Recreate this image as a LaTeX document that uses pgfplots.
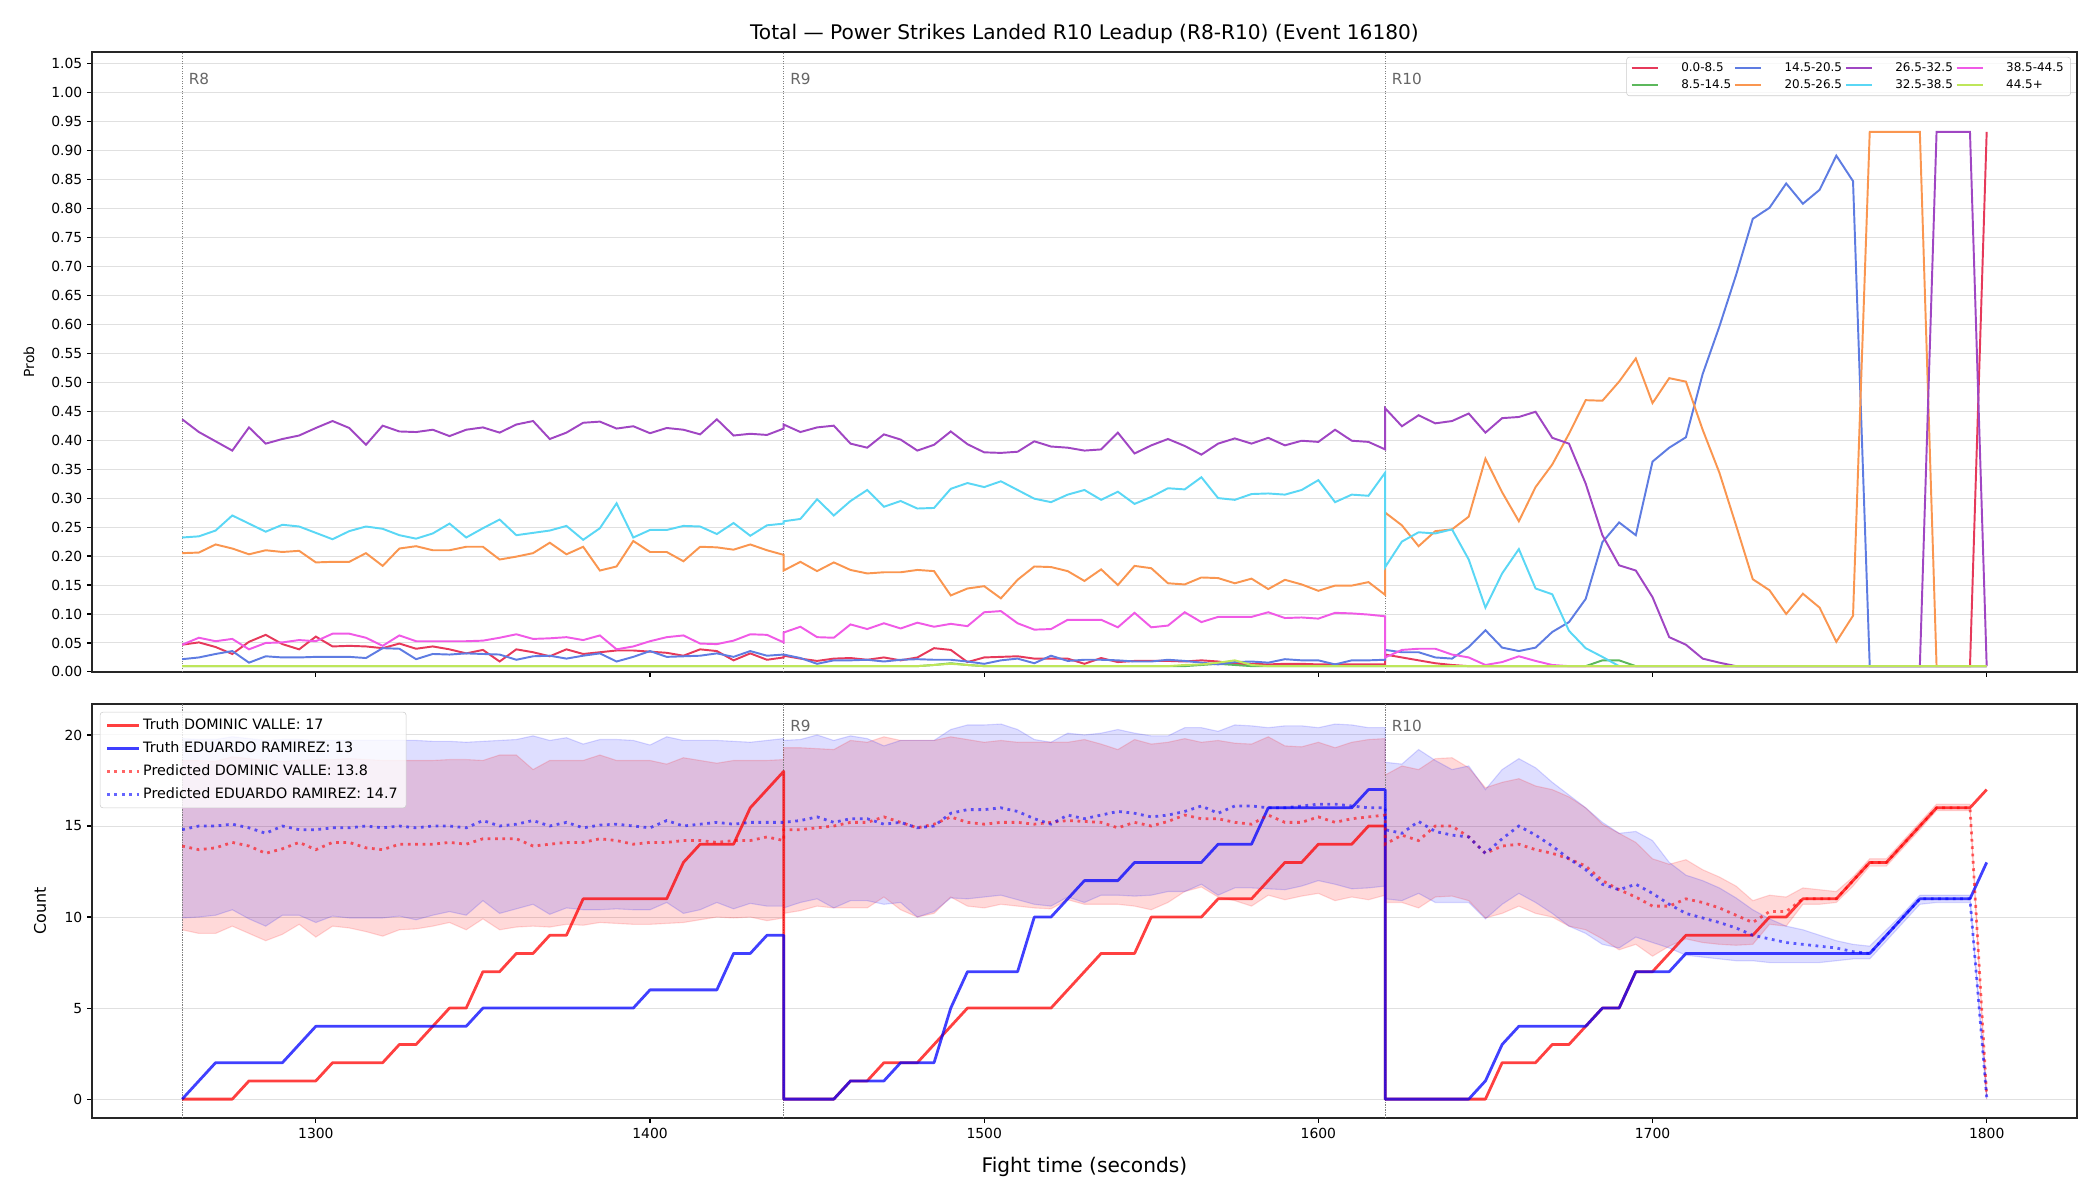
\documentclass[border=0pt]{standalone}
\usepackage{fontspec}
\setmainfont{DejaVu Sans}
\usepackage{pgfplots}
\usepackage{pgfplotstable}
\usepgfplotslibrary{fillbetween}
\pgfplotsset{compat=1.18}

\definecolor{c0}{RGB}{230,57,90}
\definecolor{c1}{RGB}{92,184,92}
\definecolor{c2}{RGB}{94,124,226}
\definecolor{c3}{RGB}{250,150,80}
\definecolor{c4}{RGB}{160,70,195}
\definecolor{c5}{RGB}{90,215,245}
\definecolor{c6}{RGB}{240,90,230}
\definecolor{c7}{RGB}{190,230,90}

\pgfplotstableread{
t r g b o p c m y
1260 0.047 0.010 0.022 0.205 0.436 0.232 0.047 0.010
1265 0.051 0.010 0.025 0.206 0.414 0.234 0.059 0.010
1270 0.043 0.010 0.031 0.220 0.398 0.244 0.053 0.010
1275 0.031 0.010 0.036 0.213 0.382 0.270 0.057 0.010
1280 0.052 0.010 0.016 0.203 0.422 0.256 0.039 0.010
1285 0.064 0.010 0.027 0.210 0.394 0.242 0.050 0.010
1290 0.048 0.010 0.025 0.207 0.402 0.254 0.051 0.010
1295 0.039 0.010 0.025 0.209 0.408 0.251 0.055 0.010
1300 0.061 0.010 0.026 0.189 0.421 0.240 0.053 0.010
1305 0.044 0.010 0.026 0.190 0.433 0.229 0.066 0.010
1310 0.045 0.010 0.026 0.190 0.421 0.243 0.066 0.010
1315 0.044 0.010 0.024 0.205 0.392 0.251 0.059 0.010
1320 0.041 0.010 0.041 0.183 0.425 0.247 0.045 0.010
1325 0.049 0.010 0.040 0.213 0.415 0.236 0.063 0.010
1330 0.040 0.010 0.022 0.217 0.414 0.230 0.053 0.010
1335 0.044 0.010 0.031 0.210 0.418 0.239 0.053 0.010
1340 0.039 0.010 0.030 0.210 0.407 0.256 0.053 0.010
1345 0.032 0.010 0.032 0.216 0.418 0.232 0.053 0.010
1350 0.038 0.010 0.031 0.216 0.422 0.248 0.054 0.010
1355 0.018 0.010 0.030 0.194 0.413 0.263 0.059 0.010
1360 0.039 0.010 0.021 0.199 0.427 0.236 0.065 0.010
1365 0.034 0.010 0.027 0.205 0.433 0.240 0.057 0.010
1370 0.027 0.010 0.028 0.223 0.402 0.244 0.058 0.010
1375 0.039 0.010 0.023 0.203 0.413 0.252 0.060 0.010
1380 0.031 0.010 0.028 0.216 0.430 0.228 0.055 0.010
1385 0.034 0.010 0.032 0.175 0.432 0.248 0.063 0.010
1390 0.037 0.010 0.018 0.182 0.420 0.291 0.039 0.010
1395 0.037 0.010 0.026 0.226 0.424 0.232 0.044 0.010
1400 0.035 0.010 0.036 0.207 0.412 0.245 0.053 0.010
1405 0.033 0.010 0.026 0.207 0.421 0.245 0.060 0.010
1410 0.028 0.010 0.027 0.191 0.418 0.252 0.063 0.010
1415 0.039 0.010 0.028 0.216 0.410 0.251 0.049 0.010
1420 0.036 0.010 0.032 0.215 0.436 0.238 0.048 0.010
1425 0.020 0.010 0.026 0.211 0.408 0.257 0.054 0.010
1430 0.032 0.010 0.036 0.220 0.411 0.235 0.065 0.010
1435 0.021 0.010 0.028 0.210 0.409 0.253 0.064 0.010
1440 0.025 0.010 0.030 0.202 0.420 0.256 0.051 0.010
1440 0.028 0.010 0.030 0.175 0.427 0.260 0.068 0.010
1445 0.023 0.010 0.024 0.190 0.414 0.264 0.078 0.010
1450 0.019 0.010 0.014 0.174 0.422 0.298 0.060 0.010
1455 0.023 0.010 0.020 0.189 0.425 0.270 0.059 0.010
1460 0.024 0.010 0.020 0.176 0.394 0.295 0.082 0.010
1465 0.021 0.010 0.021 0.170 0.387 0.314 0.074 0.010
1470 0.025 0.010 0.018 0.172 0.410 0.285 0.084 0.010
1475 0.020 0.010 0.021 0.172 0.401 0.295 0.075 0.010
1480 0.025 0.010 0.022 0.176 0.382 0.282 0.085 0.010
1485 0.041 0.012 0.021 0.174 0.392 0.283 0.078 0.012
1490 0.038 0.015 0.021 0.132 0.415 0.316 0.083 0.014
1495 0.017 0.012 0.018 0.144 0.393 0.326 0.079 0.012
1500 0.025 0.010 0.014 0.148 0.379 0.319 0.103 0.010
1505 0.026 0.010 0.020 0.127 0.378 0.329 0.105 0.010
1510 0.027 0.010 0.023 0.159 0.380 0.314 0.084 0.010
1515 0.023 0.010 0.015 0.182 0.398 0.299 0.073 0.010
1520 0.023 0.010 0.028 0.181 0.389 0.293 0.074 0.010
1525 0.023 0.010 0.019 0.174 0.387 0.306 0.090 0.010
1530 0.014 0.010 0.021 0.157 0.382 0.314 0.090 0.010
1535 0.024 0.010 0.021 0.177 0.384 0.297 0.090 0.010
1540 0.017 0.010 0.020 0.150 0.413 0.311 0.077 0.010
1545 0.019 0.010 0.018 0.183 0.377 0.290 0.102 0.010
1550 0.019 0.010 0.018 0.179 0.391 0.302 0.077 0.010
1555 0.019 0.010 0.021 0.153 0.402 0.317 0.080 0.010
1560 0.018 0.010 0.019 0.151 0.390 0.315 0.103 0.012
1565 0.020 0.012 0.016 0.163 0.375 0.336 0.086 0.013
1570 0.018 0.014 0.013 0.162 0.394 0.300 0.095 0.016
1575 0.014 0.012 0.017 0.153 0.403 0.297 0.095 0.020
1580 0.014 0.010 0.018 0.161 0.394 0.307 0.095 0.012
1585 0.013 0.010 0.016 0.143 0.404 0.308 0.103 0.010
1590 0.014 0.010 0.022 0.159 0.391 0.306 0.093 0.010
1595 0.014 0.010 0.020 0.151 0.399 0.314 0.094 0.010
1600 0.013 0.010 0.020 0.140 0.397 0.331 0.092 0.010
1605 0.013 0.010 0.013 0.149 0.418 0.293 0.102 0.010
1610 0.013 0.010 0.020 0.149 0.399 0.306 0.101 0.010
1615 0.013 0.010 0.020 0.155 0.397 0.304 0.099 0.010
1620 0.013 0.010 0.021 0.133 0.384 0.344 0.096 0.010
1620 0.030 0.010 0.038 0.275 0.455 0.181 0.025 0.010
1625 0.025 0.010 0.034 0.253 0.424 0.225 0.038 0.010
1630 0.020 0.010 0.034 0.217 0.443 0.241 0.040 0.010
1635 0.015 0.010 0.025 0.243 0.429 0.239 0.040 0.010
1640 0.012 0.010 0.023 0.246 0.433 0.246 0.030 0.010
1645 0.010 0.010 0.043 0.268 0.446 0.194 0.025 0.010
1650 0.010 0.010 0.072 0.368 0.413 0.111 0.012 0.010
1655 0.010 0.010 0.042 0.310 0.438 0.170 0.017 0.010
1660 0.010 0.010 0.036 0.260 0.440 0.212 0.027 0.010
1665 0.010 0.010 0.042 0.319 0.449 0.144 0.019 0.010
1670 0.010 0.010 0.069 0.358 0.404 0.134 0.012 0.010
1675 0.010 0.010 0.086 0.411 0.394 0.071 0.010 0.010
1680 0.010 0.010 0.126 0.469 0.325 0.041 0.010 0.010
1685 0.010 0.020 0.224 0.468 0.236 0.026 0.010 0.010
1690 0.010 0.020 0.258 0.501 0.184 0.010 0.010 0.010
1695 0.010 0.010 0.236 0.541 0.175 0.010 0.010 0.010
1700 0.010 0.010 0.363 0.464 0.129 0.010 0.010 0.010
1705 0.010 0.010 0.387 0.507 0.060 0.010 0.010 0.010
1710 0.010 0.010 0.405 0.501 0.047 0.010 0.010 0.010
1715 0.010 0.010 0.514 0.418 0.023 0.010 0.010 0.010
1720 0.010 0.010 0.596 0.344 0.016 0.010 0.010 0.010
1725 0.010 0.010 0.685 0.253 0.010 0.010 0.010 0.010
1730 0.010 0.010 0.782 0.160 0.010 0.010 0.010 0.010
1735 0.010 0.010 0.801 0.141 0.010 0.010 0.010 0.010
1740 0.010 0.010 0.843 0.100 0.010 0.010 0.010 0.010
1745 0.010 0.010 0.808 0.135 0.010 0.010 0.010 0.010
1750 0.010 0.010 0.832 0.111 0.010 0.010 0.010 0.010
1755 0.010 0.010 0.891 0.052 0.010 0.010 0.010 0.010
1760 0.010 0.010 0.847 0.097 0.010 0.010 0.010 0.010
1765 0.010 0.010 0.010 0.932 0.010 0.010 0.010 0.010
1770 0.010 0.010 0.010 0.932 0.010 0.010 0.010 0.010
1775 0.010 0.010 0.010 0.932 0.010 0.010 0.010 0.010
1780 0.010 0.010 0.010 0.932 0.010 0.010 0.010 0.010
1785 0.010 0.010 0.010 0.010 0.932 0.010 0.010 0.010
1790 0.010 0.010 0.010 0.010 0.932 0.010 0.010 0.010
1795 0.010 0.010 0.010 0.010 0.932 0.010 0.010 0.010
1800 0.932 0.010 0.010 0.010 0.010 0.010 0.010 0.010
}\probtab

\pgfplotstableread{
t tR tB pR pB rLo rHi bLo bHi
1260 0 0 13.9 14.8 9.3 18.6 9.95 19.8
1265 0 1 13.7 15.0 9.1 18.6 10.0 19.75
1270 0 2 13.8 15.0 9.1 18.55 10.1 19.75
1275 0 2 14.1 15.1 9.5 18.8 10.4 19.9
1280 1 2 13.9 14.9 9.1 18.7 9.9 19.8
1285 1 2 13.5 14.6 8.7 18.6 9.5 19.7
1290 1 2 13.75 15.0 9.05 18.55 10.1 19.75
1295 1 3 14.1 14.8 9.6 18.6 10.1 19.75
1300 1 4 13.7 14.8 8.9 18.65 9.7 19.7
1305 2 4 14.1 14.9 9.5 18.65 10.05 19.7
1310 2 4 14.1 14.9 9.4 18.7 9.95 19.7
1315 2 4 13.8 15.0 9.2 18.65 9.95 19.7
1320 2 4 13.7 14.9 8.95 18.6 9.95 19.7
1325 3 4 14.0 15.0 9.3 18.6 10.05 19.7
1330 3 4 14.0 14.9 9.35 18.6 9.85 19.7
1335 4 4 14.0 15.0 9.5 18.6 10.1 19.65
1340 5 4 14.1 15.0 9.7 18.65 10.3 19.65
1345 5 4 14.0 14.9 9.3 18.65 10.1 19.6
1350 7 5 14.3 15.3 9.9 18.6 10.9 19.65
1355 7 5 14.3 15.0 9.3 18.9 10.2 19.7
1360 8 5 14.3 15.1 9.45 18.9 10.45 19.75
1365 8 5 13.9 15.3 9.5 18.1 10.7 19.95
1370 9 5 14.0 15.0 9.45 18.6 10.15 19.7
1375 9 5 14.1 15.2 9.6 18.6 10.5 19.85
1380 11 5 14.1 14.9 9.55 18.6 10.4 19.5
1385 11 5 14.3 15.05 9.7 18.9 10.4 19.75
1390 11 5 14.2 15.1 9.65 18.6 10.45 19.75
1395 11 5 14.0 15.0 9.6 18.6 10.4 19.7
1400 11 6 14.1 14.9 9.6 18.6 10.4 19.45
1405 11 6 14.1 15.3 9.65 18.4 10.8 19.9
1410 13 6 14.2 15.0 9.7 18.75 10.2 19.7
1415 14 6 14.2 15.1 9.85 18.6 10.4 19.7
1420 14 6 14.1 15.2 10.0 18.45 10.8 19.7
1425 14 8 14.2 15.1 9.95 18.6 10.45 19.65
1430 16 8 14.2 15.2 10.0 18.6 10.75 19.6
1435 17 9 14.4 15.2 9.8 18.6 10.6 19.7
1440 18 9 14.2 15.2 9.95 18.65 10.6 19.8
1440 0 0 14.8 15.2 10.2 19.3 10.5 19.7
1445 0 0 14.8 15.3 10.35 19.3 10.8 19.75
1450 0 0 14.9 15.5 10.6 19.25 11.0 20.0
1455 0 0 15.0 15.2 10.5 19.2 10.5 19.7
1460 1 1 15.2 15.4 10.5 19.7 10.9 19.95
1465 1 1 15.2 15.4 10.5 19.6 10.9 19.8
1470 2 1 15.5 15.1 11.1 19.9 10.7 19.4
1475 2 2 15.2 15.2 10.4 19.7 10.8 19.7
1480 2 2 14.9 14.9 10.0 19.7 10.0 19.7
1485 3 2 15.1 15.0 10.2 19.7 10.3 19.7
1490 4 5 15.5 15.7 11.1 19.9 11.05 20.3
1495 5 7 15.2 15.9 10.6 19.75 11.0 20.55
1500 5 7 15.1 15.9 10.5 19.6 11.1 20.55
1505 5 7 15.2 16.0 10.7 19.7 11.2 20.6
1510 5 7 15.2 15.8 10.6 19.6 10.95 20.3
1515 5 10 15.1 15.4 10.5 19.6 10.7 19.75
1520 5 10 15.2 15.1 10.45 19.6 10.6 19.6
1525 6 11 15.3 15.6 10.95 19.6 11.1 20.1
1530 7 12 15.25 15.4 10.7 19.75 10.8 20.0
1535 8 12 15.2 15.6 10.7 19.5 11.2 20.1
1540 8 12 14.9 15.8 10.7 19.2 11.2 20.3
1545 8 13 15.2 15.7 10.6 19.75 11.15 20.1
1550 10 13 15.0 15.5 10.4 19.5 11.2 19.95
1555 10 13 15.25 15.6 10.8 19.6 11.4 19.95
1560 10 13 15.6 15.8 11.4 19.8 11.4 20.4
1565 10 13 15.4 16.1 11.65 19.6 11.8 20.4
1570 11 14 15.4 15.7 11.1 19.7 11.2 20.2
1575 11 14 15.2 16.1 10.9 19.55 11.6 20.55
1580 11 14 15.1 16.1 10.6 19.5 11.6 20.5
1585 12 16 15.6 16.0 11.2 19.9 11.55 20.4
1590 13 16 15.2 16.0 10.95 19.4 11.5 20.5
1595 13 16 15.2 16.1 11.15 19.35 11.7 20.5
1600 14 16 15.5 16.2 11.3 19.6 12.0 20.4
1605 14 16 15.2 16.2 10.9 19.3 11.8 20.6
1610 14 16 15.4 16.1 11.1 19.6 11.55 20.55
1615 15 17 15.5 16.0 10.95 19.75 11.6 20.4
1620 15 17 15.6 16.0 11.2 19.8 11.7 20.4
1620 0 0 14.0 14.8 10.8 17.8 11.0 18.5
1625 0 0 14.5 14.6 10.8 18.3 10.9 18.4
1630 0 0 14.2 15.25 10.5 18.1 11.3 19.2
1635 0 0 15.0 14.7 11.1 18.7 10.8 18.6
1640 0 0 15.0 14.5 11.15 18.75 10.8 18.1
1645 0 0 14.4 14.4 10.9 18.2 10.8 18.3
1650 0 1 13.5 13.5 9.95 17.1 9.9 17.0
1655 2 3 13.9 14.3 10.2 17.4 10.7 18.1
1660 2 4 14.0 15.0 10.6 17.6 11.3 18.7
1665 2 4 13.7 14.5 10.2 17.2 10.8 18.2
1670 3 4 13.5 13.9 10.0 17.0 10.2 17.4
1675 3 4 13.2 13.2 9.5 16.6 9.5 16.7
1680 4 4 12.8 12.6 9.3 16.0 9.1 16.0
1685 5 5 12.0 11.8 8.8 15.1 8.5 15.2
1690 5 5 11.5 11.5 8.2 14.6 8.3 14.6
1695 7 7 11.1 11.8 8.5 14.1 8.9 14.7
1700 7 7 10.6 11.3 7.85 13.2 8.6 14.2
1705 8 7 10.6 10.7 8.4 12.9 8.3 13.0
1710 9 8 11.0 10.2 8.8 13.15 7.9 12.3
1715 9 8 10.8 9.95 8.6 12.6 7.8 12.0
1720 9 8 10.5 9.7 8.5 12.2 7.7 11.6
1725 9 8 10.1 9.4 8.45 11.7 7.6 11.05
1730 9 8 9.7 9.0 8.5 10.9 7.6 10.4
1735 10 8 10.3 8.8 9.6 11.2 7.5 9.9
1740 10 8 10.3 8.6 9.5 11.1 7.5 9.5
1745 11 8 11.0 8.5 10.7 11.6 7.5 9.3
1750 11 8 11.0 8.4 10.7 11.5 7.5 9.0
1755 11 8 11.0 8.3 10.8 11.4 7.6 8.7
1760 12 8 12.0 8.1 11.7 12.2 7.7 8.5
1765 13 8 13.0 8.0 12.8 13.2 7.7 8.4
1770 13 9 13.0 9.0 12.8 13.2 8.7 9.3
1775 14 10 14.0 10.0 13.8 14.2 9.7 10.2
1780 15 11 15.0 11.0 14.8 15.2 10.7 11.2
1785 16 11 16.0 11.0 15.85 16.2 10.8 11.2
1790 16 11 16.0 11.0 15.85 16.2 10.8 11.2
1795 16 11 16.0 11.0 15.85 16.2 10.8 11.2
1800 17 13 0.2 0.1 0.0 0.2 0.0 0.2
}\cnttab

\pgfplotsset{
  common/.style={
    scale only axis, width=1429.2pt,
    xmin=1233, xmax=1827,
    xtick={1300,1400,1500,1600,1700,1800},
    tick align=outside, xtick pos=bottom, ytick pos=left,
    major tick length=3.5pt,
    every tick/.style={black, line width=0.8pt},
    axis line style={line width=1pt, black!85},
    ymajorgrids, grid style={black!12, line width=0.7pt},
    /pgf/number format/assume math mode=true,
    ticklabel style={font=\fontsize{10}{12}\selectfont},
    xticklabel style={/pgf/number format/1000 sep={}},
  },
}

\begin{document}
\begin{tikzpicture}

% ---------- top panel ----------
\begin{axis}[common,
  at={(66.2pt,380.2pt)}, anchor=south west, height=446.4pt,
  ymin=0, ymax=1.07, xticklabels={},
  ytick={0,0.05,0.1,0.15,0.2,0.25,0.3,0.35,0.4,0.45,0.5,0.55,0.6,0.65,0.7,0.75,0.8,0.85,0.9,0.95,1,1.05},
  yticklabel style={/pgf/number format/.cd, fixed, fixed zerofill, precision=2},
  legend columns=4,
  legend style={at={(rel axis cs:0.997,0.992)}, anchor=north east,
    font=\fontsize{8.6}{10}\selectfont, draw=black!20, rounded corners=2pt,
    fill=white, fill opacity=0.8, text opacity=1,
    inner xsep=3pt, inner ysep=2pt,
    /tikz/every odd column/.append style={column sep=14pt}},
  legend cell align=left,
  legend image code/.code={\draw[#1, line width=1.4pt] (0pt,0pt) -- (19pt,0pt);},
]
\addplot[gray, densely dotted, line width=0.8pt, forget plot] coordinates {(1260,0) (1260,1.07)};
\addplot[gray, densely dotted, line width=0.8pt, forget plot] coordinates {(1440,0) (1440,1.07)};
\addplot[gray, densely dotted, line width=0.8pt, forget plot] coordinates {(1620,0) (1620,1.07)};
\addplot[c0, line width=1.4pt, forget plot] table[x=t, y=r] {\probtab};
\addplot[c1, line width=1.4pt, forget plot] table[x=t, y=g] {\probtab};
\addplot[c2, line width=1.4pt, forget plot] table[x=t, y=b] {\probtab};
\addplot[c3, line width=1.4pt, forget plot] table[x=t, y=o] {\probtab};
\addplot[c4, line width=1.4pt, forget plot] table[x=t, y=p] {\probtab};
\addplot[c5, line width=1.4pt, forget plot] table[x=t, y=c] {\probtab};
\addplot[c6, line width=1.4pt, forget plot] table[x=t, y=m] {\probtab};
\addplot[c7, line width=1.4pt, forget plot] table[x=t, y=y] {\probtab};
\addlegendimage{c0}\addlegendentry{0.0-8.5}
\addlegendimage{c2}\addlegendentry{14.5-20.5}
\addlegendimage{c4}\addlegendentry{26.5-32.5}
\addlegendimage{c6}\addlegendentry{38.5-44.5}
\addlegendimage{c1}\addlegendentry{8.5-14.5}
\addlegendimage{c3}\addlegendentry{20.5-26.5}
\addlegendimage{c5}\addlegendentry{32.5-38.5}
\addlegendimage{c7}\addlegendentry{44.5+}
\node[anchor=north west, text=black!60, font=\fontsize{11}{13}\selectfont, inner sep=1pt] at (axis cs:1261.5,1.037) {R8};
\node[anchor=north west, text=black!60, font=\fontsize{11}{13}\selectfont, inner sep=1pt] at (axis cs:1441.5,1.037) {R9};
\node[anchor=north west, text=black!60, font=\fontsize{11}{13}\selectfont, inner sep=1pt] at (axis cs:1621.5,1.037) {R10};
\end{axis}

% ---------- bottom panel ----------
\begin{axis}[common,
  at={(66.2pt,59pt)}, anchor=south west, height=298.1pt,
  ymin=-1.04, ymax=21.7,
  ytick={0,5,10,15,20},
  legend style={at={(rel axis cs:0.004,0.981)}, anchor=north west,
    font=\fontsize{10.3}{12}\selectfont, draw=black!20, rounded corners=2pt,
    fill=white, fill opacity=0.8, text opacity=1,
    inner xsep=4pt, inner ysep=3pt, row sep=3.2pt},
  legend cell align=left,
  legend image code/.code={\draw[#1] (0pt,0pt) -- (23pt,0pt);},
]
\addplot[gray, densely dotted, line width=0.8pt, forget plot] coordinates {(1260,-1.04) (1260,21.7)};
\addplot[gray, densely dotted, line width=0.8pt, forget plot] coordinates {(1440,-1.04) (1440,21.7)};
\addplot[gray, densely dotted, line width=0.8pt, forget plot] coordinates {(1620,-1.04) (1620,21.7)};

\addplot[red, draw opacity=0.15, line width=0.8pt, name path=rhi, forget plot] table[x=t, y=rHi] {\cnttab};
\addplot[red, draw opacity=0.15, line width=0.8pt, name path=rlo, forget plot] table[x=t, y=rLo] {\cnttab};
\addplot[fill=red, fill opacity=0.15, draw=none, forget plot] fill between[of=rhi and rlo];
\addplot[blue, draw opacity=0.15, line width=0.8pt, name path=bhi, forget plot] table[x=t, y=bHi] {\cnttab};
\addplot[blue, draw opacity=0.15, line width=0.8pt, name path=blo, forget plot] table[x=t, y=bLo] {\cnttab};
\addplot[fill=blue, fill opacity=0.13, draw=none, forget plot] fill between[of=bhi and blo];

\addplot[red, opacity=0.75, line width=2pt, line join=round] table[x=t, y=tR] {\cnttab};
\addlegendentry{Truth DOMINIC VALLE: 17}
\addplot[blue, opacity=0.75, line width=2pt, line join=round] table[x=t, y=tB] {\cnttab};
\addlegendentry{Truth EDUARDO RAMIREZ: 13}
\addplot[red, opacity=0.6, line width=2pt, dash pattern=on 2pt off 3.3pt] table[x=t, y=pR] {\cnttab};
\addlegendentry{Predicted DOMINIC VALLE: 13.8}
\addplot[blue, opacity=0.6, line width=2pt, dash pattern=on 2pt off 3.3pt] table[x=t, y=pB] {\cnttab};
\addlegendentry{Predicted EDUARDO RAMIREZ: 14.7}

\node[anchor=north west, text=black!60, font=\fontsize{11}{13}\selectfont, inner sep=1pt] at (axis cs:1441.5,20.9) {R9};
\node[anchor=north west, text=black!60, font=\fontsize{11}{13}\selectfont, inner sep=1pt] at (axis cs:1621.5,20.9) {R10};
\end{axis}

% ---------- titles and labels ----------
\node[font=\fontsize{14.5}{17}\selectfont] at (780.8pt,839.8pt) {Total — Power Strikes Landed R10 Leadup (R8-R10) (Event 16180)};
\node[font=\fontsize{14.5}{17}\selectfont] at (780.8pt,23.6pt) {Fight time (seconds)};
\node[font=\fontsize{10}{12}\selectfont, rotate=90] at (20.9pt,603.4pt) {Prob};
\node[font=\fontsize{11.5}{13}\selectfont, rotate=90] at (28.8pt,208.1pt) {Count};
\path (0,0) rectangle (1512pt,864pt);
\end{tikzpicture}
\end{document}
